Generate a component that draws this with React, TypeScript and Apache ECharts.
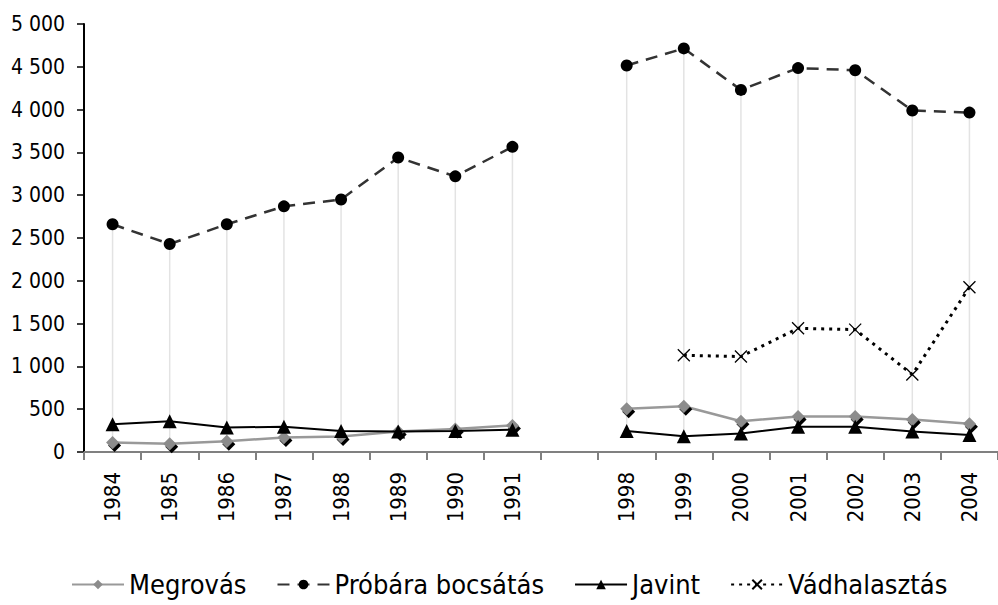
import React, { useEffect, useRef } from "react";
import * as echarts from "echarts";

const categories = ["1984", "1985", "1986", "1987", "1988", "1989", "1990", "1991", "", "1998", "1999", "2000", "2001", "2002", "2003", "2004"];
const megrovas = [110, 95, 125, 170, 180, 240, 268, 310, null, 505, 535, 360, 415, 415, 380, 330];
const probara = [2660, 2430, 2660, 2870, 2950, 3440, 3220, 3565, null, 4515, 4715, 4230, 4485, 4460, 3990, 3965];
const javint = [325, 360, 285, 296, 245, 240, 245, 260, null, 245, 185, 215, 295, 295, 240, 200];
const vadhalasztas = [null, null, null, null, null, null, null, null, null, null, 1130, 1115, 1445, 1430, 905, 1925];
const seriesNames = ["Megrovás", "Próbára bocsátás", "Javint", "Vádhalasztás"];

const FONT = "'DejaVu Sans Condensed', 'Liberation Sans', sans-serif";

export default function App() {
  const ref = useRef<HTMLDivElement>(null);
  useEffect(() => {
    if (!ref.current) return;
    const chart = echarts.init(ref.current, null, { renderer: "svg" });
    const all = [megrovas, probara, javint, vadhalasztas];
    const hiLo: any[] = [];
    categories.forEach((_, i) => {
      const vals = all.map((a) => a[i]).filter((v) => v !== null) as number[];
      if (vals.length) hiLo.push([i, Math.min(...vals), Math.max(...vals)]);
    });
    chart.setOption({
      animation: false,
      textStyle: { fontFamily: FONT },
      grid: { left: 84, top: 24, width: 924, height: 428, containLabel: false },
      legend: {
        data: seriesNames,
        left: 66,
        top: 566,
        itemWidth: 52,
        itemHeight: 12,
        itemGap: 30,
        textStyle: { fontSize: 27, color: "#000", fontFamily: FONT },
      },
      xAxis: {
        type: "category",
        data: categories,
        boundaryGap: true,
        axisLine: { lineStyle: { color: "#808080", width: 2 } },
        axisTick: { show: true, length: 8, lineStyle: { color: "#808080", width: 2 }, interval: 0 },
        axisLabel: { rotate: 90, fontSize: 22, color: "#000", margin: 20, interval: 0, fontFamily: FONT },
        splitLine: { show: false },
      },
      yAxis: {
        type: "value",
        min: 0,
        max: 5000,
        interval: 500,
        axisLine: { show: true, lineStyle: { color: "#000", width: 2 } },
        axisTick: { show: true, length: 7, lineStyle: { color: "#000", width: 1.5 } },
        splitLine: { show: false },
        axisLabel: {
          fontSize: 21,
          color: "#000",
          margin: 19,
          fontFamily: FONT,
          formatter: (v: number) => String(v).replace(/\B(?=(\d{3})+(?!\d))/g, " "),
        },
      },
      series: [
        {
          type: "custom",
          name: "hilo",
          data: hiLo,
          encode: { x: 0, y: [1, 2] },
          z: 1,
          silent: true,
          renderItem: (params: any, api: any) => {
            const p1 = api.coord([api.value(0), api.value(1)]);
            const p2 = api.coord([api.value(0), api.value(2)]);
            return {
              type: "line",
              shape: { x1: p1[0], y1: p1[1], x2: p2[0], y2: p2[1] },
              style: { stroke: "#e3e3e3", lineWidth: 1.5 },
            };
          },
        },
        {
          name: seriesNames[0],
          type: "line",
          data: megrovas,
          z: 3,
          symbol: "diamond",
          symbolSize: 13,
          itemStyle: { color: "#8c8c8c", shadowColor: "#000", shadowOffsetX: 2, shadowOffsetY: 3, shadowBlur: 0 },
          lineStyle: { color: "#999", width: 2.5, shadowColor: "transparent" },
        },
        {
          name: seriesNames[1],
          type: "line",
          data: probara,
          z: 3,
          symbol: "circle",
          symbolSize: 12,
          itemStyle: { color: "#000" },
          lineStyle: { color: "#333", width: 2.5, type: [12, 8] },
        },
        {
          name: seriesNames[2],
          type: "line",
          data: javint,
          z: 4,
          symbol: "triangle",
          symbolSize: 14,
          itemStyle: { color: "#000" },
          lineStyle: { color: "#000", width: 2 },
        },
        {
          name: seriesNames[3],
          type: "line",
          data: vadhalasztas,
          z: 3,
          symbol: "path://M0,0L10,10M10,0L0,10",
          symbolSize: 12,
          itemStyle: { color: "rgba(0,0,0,0)", borderColor: "#000", borderWidth: 1.3 },
          lineStyle: { color: "#000", width: 3, type: [3, 5] },
        },
      ],
    });
    return () => chart.dispose();
  }, []);
  return <div ref={ref} style={{ width: 998, height: 605, position: "absolute", left: 0, top: 0 }} />;
}
